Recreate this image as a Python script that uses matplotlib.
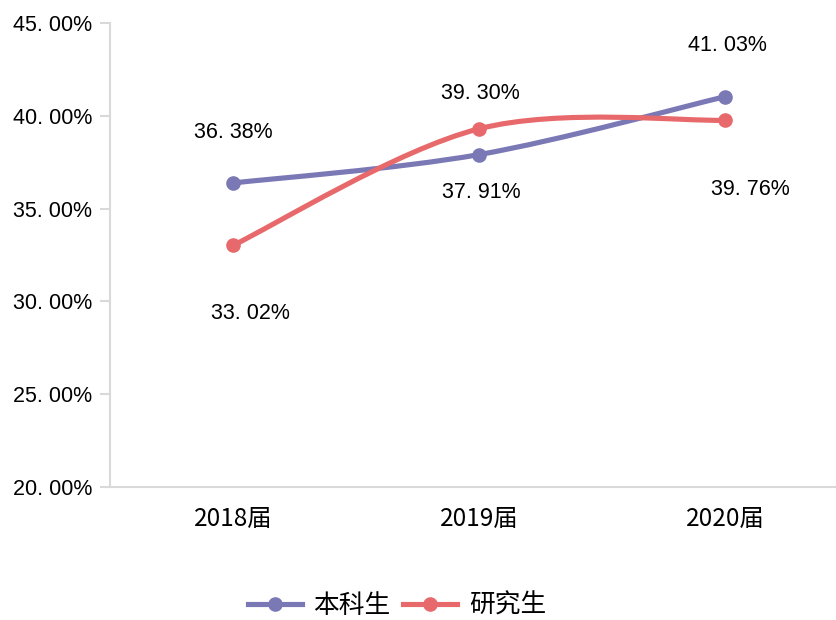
import numpy as np
import matplotlib
matplotlib.use('Agg')
import matplotlib.pyplot as plt
from matplotlib.path import Path
from matplotlib.patches import PathPatch
from matplotlib.lines import Line2D

plt.rcParams['font.family'] = ['Liberation Sans', 'Noto Sans CJK SC', 'DejaVu Sans']

CATEGORIES = ['2018届', '2019届', '2020届']
UNDERGRAD = [36.38, 37.91, 41.03]   # 本科生
GRADUATE = [33.02, 39.30, 39.76]    # 研究生
SERIES_NAMES = ['本科生', '研究生']
Y_TICKS = [20, 25, 30, 35, 40, 45]

PURPLE = '#7A78B5'
RED = '#E8696B'
AXIS_GREY = '#D9D9D9'


def fmt(v):
    # the original renders the decimal point wide, e.g. "36. 38%"
    return f"{v:.2f}%".replace('.', '. ')


def smooth_path(xs, ys):
    """Excel-style smoothed line: cubic Bezier through every point,
    control points from neighbouring points (Catmull-Rom, tension 1/6)."""
    pts = np.column_stack([xs, ys]).astype(float)
    n = len(pts)
    verts = [pts[0]]
    codes = [Path.MOVETO]
    for i in range(n - 1):
        p_prev = pts[i - 1] if i > 0 else pts[i]
        p_next2 = pts[i + 2] if i + 2 < n else pts[i + 1]
        c1 = pts[i] + (pts[i + 1] - p_prev) / 6
        c2 = pts[i + 1] - (p_next2 - pts[i]) / 6
        verts += [c1, c2, pts[i + 1]]
        codes += [Path.CURVE4] * 3
    return Path(verts, codes)


fig = plt.figure(figsize=(8.37, 6.2), dpi=100)
# plot area runs off the right edge of the picture, as in the original
ax = fig.add_axes([110 / 837, 1 - 487 / 620, 727 / 837, 464 / 620])

x = np.arange(len(CATEGORIES))
# (values, colour, label offsets in px (dx, dy) for each point; dy positive = up)
series = [
    (UNDERGRAD, PURPLE, [(0, 50), (2, -38), (2, 51)]),
    (GRADUATE, RED, [(17, -68), (1, 35), (25, -69)]),
]
for vals, colour, offsets in series:
    ax.add_patch(PathPatch(smooth_path(x, vals), fill=False, edgecolor=colour,
                           lw=3.7, capstyle='round', joinstyle='round', zorder=3))
    ax.plot(x, vals, 'o', color=colour, ms=9.5, zorder=4)
    for xi, v, (dx, dy) in zip(x, vals, offsets):
        ax.annotate(fmt(v), (xi, v), xytext=(dx * 0.72, dy * 0.72),
                    textcoords='offset points', ha='center', va='center',
                    fontsize=15.5, color='black')

ax.set_xlim(-0.5, len(CATEGORIES) - 0.5 - 11 / 246)
ax.set_ylim(Y_TICKS[0], Y_TICKS[-1])
ax.set_yticks(Y_TICKS)
ax.set_yticklabels([fmt(t) for t in Y_TICKS], fontsize=15.5)
ax.set_xticks(x)
ax.set_xticklabels(CATEGORIES, fontsize=17.5,
                   fontfamily=['Noto Sans CJK SC', 'DejaVu Sans'])

for side in ('top', 'right', 'bottom'):
    ax.spines[side].set_visible(False)
ax.spines['left'].set_color(AXIS_GREY)
ax.spines['left'].set_linewidth(1.5)
# category axis line drawn across to the right edge of the picture
ax.add_line(Line2D([0, 1.02], [0, 0], transform=ax.transAxes, color=AXIS_GREY,
                   lw=1.5, clip_on=False, zorder=2))
ax.tick_params(axis='y', direction='out', length=7, width=1.5, color=AXIS_GREY, pad=6)
ax.tick_params(axis='x', length=0, pad=14)

handles = [Line2D([], [], color=c, lw=3.7, marker='o', ms=9.5)
           for c in (PURPLE, RED)]
fig.legend(handles, SERIES_NAMES, loc='center', bbox_to_anchor=(397 / 837, 1 - 606 / 620),
           ncol=2, frameon=False, handlelength=2.1, handletextpad=0.45,
           columnspacing=0.5, prop={'family': ['Noto Sans CJK SC', 'DejaVu Sans'], 'size': 18.5})

fig.savefig('out.png', dpi=100)
